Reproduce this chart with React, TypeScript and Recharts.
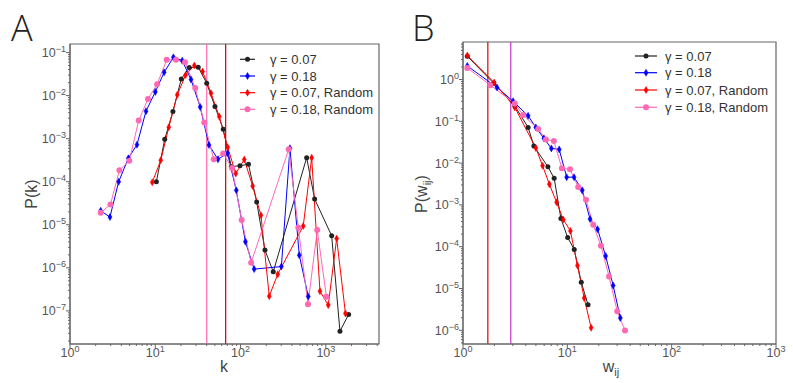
import React from 'react';
import {
  LineChart,
  Line,
  XAxis,
  YAxis,
  ReferenceLine,
  ReferenceArea,
} from 'recharts';

// Panel A: degree distribution P(k)
const aBlackK = [10.3, 12.9, 16.1, 20.2, 25.0, 31.9, 40.1, 50.1, 62.7, 77.8, 98.4, 123.8, 154.5, 193.2, 241.7, 595.7, 739, 1170, 1463, 1850];
const aBlackP = [1.0e-4, 9.7e-4, 4.25e-3, 2.44e-2, 4.48e-2, 4.57e-2, 1.94e-2, 5.55e-3, 1.66e-3, 2.23e-4, 2.36e-4, 2.54e-4, 3.37e-5, 2.58e-6, 8.07e-7, 3.61e-4, 3.96e-5, 5.55e-6, 3.37e-8, 8.24e-8];

const aBlueK = [2.29, 2.94, 3.72, 4.83, 6.1, 7.78, 10.0, 12.7, 16.3, 20.7, 26.2, 33.6, 42.6, 54.3, 70.2, 89.1, 114, 144.3, 301, 379.5, 488, 622];
const aBlueP = [2.12e-5, 1.51e-5, 1.0e-4, 3.5e-4, 7.24e-4, 4.34e-3, 1.22e-2, 3.47e-2, 7.73e-2, 6.49e-2, 2.38e-2, 5.46e-3, 7.13e-4, 3.32e-4, 4.57e-4, 6.3e-5, 4.03e-6, 9.33e-7, 1.07e-6, 5.98e-4, 1.97e-6, 2.16e-7];

const aRedK = [9.22, 11.6, 14.4, 18.1, 22.7, 28.7, 35.9, 45.0, 56.3, 70.6, 87.9, 110.5, 138.6, 173.4, 217, 273, 543, 682, 853, 1067, 1339, 1698];
const aRedP = [9.7e-5, 3.15e-4, 1.84e-3, 1.04e-2, 3.03e-2, 4.99e-2, 3.61e-2, 1.14e-2, 3.25e-3, 6.3e-4, 1.55e-4, 3.28e-4, 7.94e-5, 1.66e-5, 2.2e-7, 7.13e-7, 9.33e-6, 3.61e-4, 2.87e-7, 1.36e-7, 4.78e-6, 8.71e-8];

const aPinkK = [2.29, 2.98, 3.8, 4.96, 6.39, 8.21, 10.5, 13.6, 17.5, 22.3, 29.4, 37.5, 48.5, 62.5, 79.3, 103, 133, 367, 475, 617, 793, 1016];
const aPinkP = [1.9e-5, 2.95e-5, 1.85e-4, 3.08e-4, 2.63e-3, 8.38e-3, 1.84e-2, 6.76e-2, 6.76e-2, 5.98e-2, 1.51e-2, 2.36e-3, 3.32e-4, 4.53e-4, 2.08e-4, 1.29e-5, 1.31e-6, 5.66e-4, 8.6e-6, 1.43e-7, 7.53e-6, 2.12e-7];

// Panel B: weight distribution P(w_ij)
const bBlackW = [1.1, 1.97, 3.14, 4.21, 4.78, 6.51, 7.48, 8.68, 10.07, 11.65, 13.6, 15.8];
const bBlackP = [3.6, 0.816, 0.231, 0.0715, 0.0256, 8.2e-3, 4.34e-3, 4.71e-4, 1.66e-4, 8.57e-5, 1.41e-5, 4.06e-6];

const bBlueW = [1.1, 2.12, 3.02, 4.21, 4.99, 5.96, 7.03, 8.36, 9.85, 11.6, 13.9, 16.5, 19.5, 23.3, 27.5, 32.2];
const bBlueP = [2.11, 0.644, 0.303, 0.135, 0.0715, 0.0391, 0.0225, 0.0213, 4.61e-3, 4.61e-3, 2.24e-3, 4.58e-4, 2.63e-4, 5.97e-5, 1.18e-5, 1.98e-6];

const bRedW = [1.1, 1.99, 3.14, 4.99, 5.79, 6.73, 7.89, 9.14, 10.7, 12.5, 14.5, 16.9];
const bRedP = [3.74, 0.848, 0.215, 0.0229, 8.67e-3, 3.13e-3, 1.15e-3, 4.46e-4, 2.39e-4, 3.56e-5, 5.93e-6, 1.15e-6];

const bPinkW = [1.1, 1.83, 3.14, 3.77, 5.25, 6.23, 7.43, 8.87, 10.6, 12.7, 15.1, 17.7, 21.0, 25.1, 30.1, 35.7];
const bPinkP = [1.89, 0.731, 0.267, 0.141, 0.0652, 0.0366, 0.0337, 7.52e-3, 7.11e-3, 2.69e-3, 1.32e-3, 3.33e-4, 1.05e-4, 1.95e-5, 2.84e-6, 9.84e-7];

const aVLines = [40.1, 66.9];
const bVLines = [1.73, 2.87];

const aXMajor = [1, 10, 100, 1000];
const aYMajor = [1e-7, 1e-6, 1e-5, 1e-4, 1e-3, 1e-2, 1e-1];
const bXMajor = [1, 10, 100, 1000];
const bYMajor = [1e-6, 1e-5, 1e-4, 1e-3, 1e-2, 1e-1, 1];

const legendLabels = ['γ = 0.07', 'γ = 0.18', 'γ = 0.07, Random', 'γ = 0.18, Random'];

const COLORS = ['#222222', '#0000ff', '#ff0000', '#ff69b4'];
const SHAPES = ['circle', 'diamond', 'diamond', 'bigcircle'];
const FONT = '"Liberation Sans", Arial, sans-serif';

const zip = (xs: number[], ys: number[]) => xs.map((x, i) => ({ x, y: ys[i] }));

function withMinors(majors: number[], lo: number, hi: number) {
  const out: number[] = [];
  majors.concat([majors[0] / 10, majors[majors.length - 1] * 10]).forEach((m) => {
    for (let i = 1; i < 10; i++) {
      const v = m * i;
      if (v >= lo && v <= hi) out.push(v);
    }
  });
  return Array.from(new Set(out)).sort((a, b) => a - b);
}

const isMajor = (v: number) => Math.abs(Math.log10(v) - Math.round(Math.log10(v))) < 1e-6;
const expLabel = (v: number) => {
  const e = Math.round(Math.log10(v));
  return e < 0 ? '\u2212' + Math.abs(e) : String(e);
};

function XTick(props: any) {
  const { x, y, payload } = props;
  const v = payload.value;
  const major = isMajor(v);
  return (
    <g>
      <line x1={x} x2={x} y1={y} y2={y + (major ? 4 : 2)} stroke="#666" />
      {major && (
        <text x={x} y={y + 13} textAnchor="middle" fill="#555" fontFamily={FONT} fontSize={12.5}>
          <tspan>10</tspan>
          <tspan dy={-5} fontSize={9}>{expLabel(v)}</tspan>
        </text>
      )}
    </g>
  );
}

function YTick(props: any) {
  const { x, y, payload } = props;
  const v = payload.value;
  const major = isMajor(v);
  return (
    <g>
      <line x1={x} x2={x - (major ? 4 : 2)} y1={y} y2={y} stroke="#666" />
      {major && (
        <text x={x - 4} y={y + 4.5} textAnchor="end" fill="#555" fontFamily={FONT} fontSize={12.5}>
          <tspan>10</tspan>
          <tspan dy={-5} fontSize={9}>{expLabel(v)}</tspan>
        </text>
      )}
    </g>
  );
}

function makeDot(shape: string, color: string) {
  return (props: any) => {
    const { cx, cy, index } = props;
    const key = `dot-${index}`;
    if (cx == null || cy == null) return <g key={key} />;
    if (shape === 'diamond') {
      return (
        <path
          key={key}
          d={`M${cx},${cy - 3.5}L${cx + 2},${cy}L${cx},${cy + 3.5}L${cx - 2},${cy}Z`}
          fill={color}
          stroke={color}
          strokeWidth={0.5}
        />
      );
    }
    return <circle key={key} cx={cx} cy={cy} r={shape === 'bigcircle' ? 3 : 2.5} fill={color} stroke="none" />;
  };
}

type PanelProps = {
  left: number;
  width: number;
  top: number;
  right: number;
  yWidth: number;
  xDomain: [number, number];
  yDomain: [number, number];
  xMajor: number[];
  yMajor: number[];
  series: { x: number; y: number }[][];
  vlines: number[];
  vColors: string[];
};

function Panel(p: PanelProps) {
  const xTicks = withMinors(p.xMajor, p.xDomain[0], p.xDomain[1]);
  const yTicks = withMinors(p.yMajor, p.yDomain[0], p.yDomain[1]);
  return (
    <div style={{ position: 'absolute', left: p.left, top: 0 }}>
      <LineChart width={p.width} height={383} margin={{ top: p.top, right: p.right, bottom: 0, left: 0 }}>
        <XAxis
          dataKey="x"
          type="number"
          scale="log"
          domain={p.xDomain}
          allowDataOverflow
          ticks={xTicks}
          interval={0}
          tickSize={0}
          tickMargin={0}
          tick={<XTick />}
          height={39}
          axisLine={{ stroke: '#666' }}
        />
        <YAxis
          type="number"
          scale="log"
          domain={p.yDomain}
          allowDataOverflow
          ticks={yTicks}
          interval={0}
          tickSize={0}
          tickMargin={0}
          tick={<YTick />}
          width={p.yWidth}
          axisLine={{ stroke: '#666' }}
        />
        <ReferenceArea
          x1={p.xDomain[0]}
          x2={p.xDomain[1]}
          y1={p.yDomain[0]}
          y2={p.yDomain[1]}
          fill="none"
          stroke="#666"
          strokeWidth={1.2}
          ifOverflow="visible"
        />
        {p.vlines.map((v, i) => (
          <ReferenceLine key={`v-${i}`} x={v} stroke={p.vColors[i]} strokeWidth={1.2} />
        ))}
        {p.series.map((d, i) => (
          <Line
            key={`s-${i}`}
            data={d}
            dataKey="y"
            stroke={COLORS[i]}
            strokeWidth={1}
            dot={makeDot(SHAPES[i], COLORS[i])}
            activeDot={false}
            isAnimationActive={false}
          />
        ))}
      </LineChart>
    </div>
  );
}

function LegendBox({ x1, x2, tx, rows }: { x1: number; x2: number; tx: number; rows: number[] }) {
  return (
    <g>
      {rows.map((ry, i) => {
        const mx = (x1 + x2) / 2;
        const dot = makeDot(SHAPES[i], COLORS[i])({ cx: mx, cy: ry, index: i });
        return (
          <g key={`lg-${i}`}>
            <line x1={x1} x2={x2} y1={ry} y2={ry} stroke={COLORS[i]} strokeWidth={1.2} />
            {dot}
            <text x={tx} y={ry + 4.5} fill="#333" fontFamily={FONT} fontSize={13}>
              {legendLabels[i]}
            </text>
          </g>
        );
      })}
    </g>
  );
}

export default function App() {
  const aSeries = [zip(aBlackK, aBlackP), zip(aBlueK, aBlueP), zip(aRedK, aRedP), zip(aPinkK, aPinkP)];
  const bSeries = [zip(bBlackW, bBlackP), zip(bBlueW, bBlueP), zip(bRedW, bRedP), zip(bPinkW, bPinkP)];
  return (
    <div style={{ position: 'absolute', left: 0, top: 0, width: 793, height: 383, background: '#fff' }}>
      <Panel
        left={0}
        width={400}
        top={44}
        right={21}
        yWidth={70}
        xDomain={[1, 4200]}
        yDomain={[1.7e-8, 0.158]}
        xMajor={aXMajor}
        yMajor={aYMajor}
        series={aSeries}
        vlines={aVLines}
        vColors={['#ff69b4', '#cc0000']}
      />
      <Panel
        left={400}
        width={393}
        top={42}
        right={17}
        yWidth={63}
        xDomain={[1, 1000]}
        yDomain={[4.7e-7, 7.9]}
        xMajor={bXMajor}
        yMajor={bYMajor}
        series={bSeries}
        vlines={bVLines}
        vColors={['#e00000', '#cc33cc']}
      />
      <svg width={793} height={383} style={{ position: 'absolute', left: 0, top: 0, pointerEvents: 'none' }}>
        <text x={11} y={41} fill="#222" fontFamily='"Open Sans", sans-serif' fontWeight={300} fontSize={36}>A</text>
        <text x={412} y={41} fill="#222" fontFamily='"Open Sans", sans-serif' fontWeight={300} fontSize={36}>B</text>
        <text x={224} y={372} textAnchor="middle" fill="#444" fontFamily={FONT} fontSize={16}>k</text>
        <text
          transform="translate(37,194) rotate(-90)"
          textAnchor="middle"
          fill="#444"
          fontFamily={FONT}
          fontSize={16}
        >
          P(k)
        </text>
        <text x={611} y={372} textAnchor="middle" fill="#444" fontFamily={FONT} fontSize={16}>
          <tspan>w</tspan>
          <tspan dy={4} fontSize={11}>ij</tspan>
        </text>
        <text
          transform="translate(427,194) rotate(-90)"
          textAnchor="middle"
          fill="#444"
          fontFamily={FONT}
          fontSize={16}
        >
          <tspan>P(w</tspan>
          <tspan dy={4} fontSize={11}>ij</tspan>
          <tspan dy={-4}>)</tspan>
        </text>
        <LegendBox x1={240} x2={255} tx={270} rows={[59.3, 76, 92.7, 109.3]} />
        <LegendBox x1={635} x2={657} tx={665} rows={[56, 72.7, 90, 107.3]} />
      </svg>
    </div>
  );
}
